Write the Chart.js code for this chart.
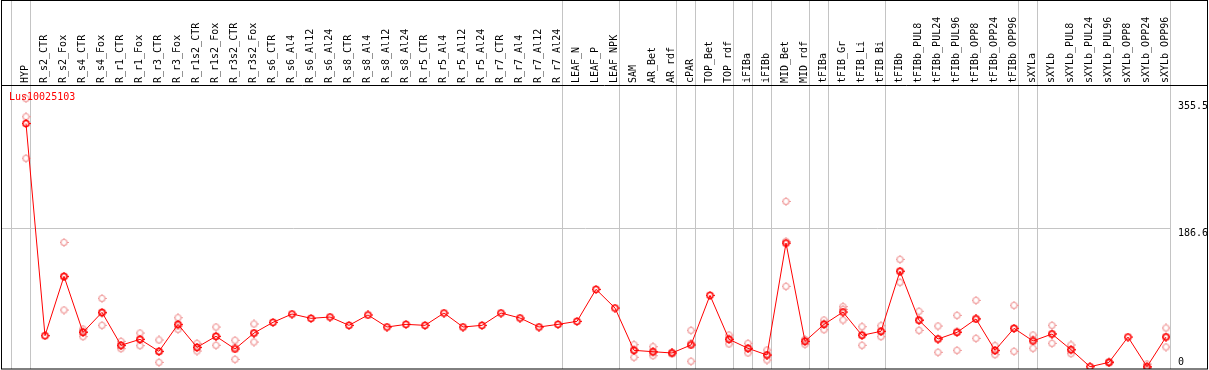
<!DOCTYPE html>
<html><head><meta charset="utf-8">
<script src="https://cdn.jsdelivr.net/npm/chart.js@4.4.1/dist/chart.umd.min.js"></script>
<style>html,body{margin:0;padding:0;background:#fff;}canvas{display:block;}</style>
</head><body>
<canvas id="c" width="1209" height="370"></canvas>
<script>
const geneName = 'Lus10025103';
const categories = ['HYP','R_s2_CTR','R_s2_Fox','R_s4_CTR','R_s4_Fox','R_r1_CTR','R_r1_Fox','R_r3_CTR','R_r3_Fox','R_r1s2_CTR','R_r1s2_Fox','R_r3s2_CTR','R_r3s2_Fox','R_s6_CTR','R_s6_Al4','R_s6_Al12','R_s6_Al24','R_s8_CTR','R_s8_Al4','R_s8_Al12','R_s8_Al24','R_r5_CTR','R_r5_Al4','R_r5_Al12','R_r5_Al24','R_r7_CTR','R_r7_Al4','R_r7_Al12','R_r7_Al24','LEAF_N','LEAF_P','LEAF_NPK','SAM','AR_Bet','AR_rdf','cPAR','TOP_Bet','TOP_rdf','iFIBa','iFIBb','MID_Bet','MID_rdf','tFIBa','tFIB_Gr','tFIB_Li','tFIB_Bi','tFIBb','tFIBb_PUL8','tFIBb_PUL24','tFIBb_PUL96','tFIBb_OPP8','tFIBb_OPP24','tFIBb_OPP96','sXYLa','sXYLb','sXYLb_PUL8','sXYLb_PUL24','sXYLb_PUL96','sXYLb_OPP8','sXYLb_OPP24','sXYLb_OPP96'];
const meanValues = [325,44.1,122.7,48.5,75,31.4,39.3,23.4,59.1,28.7,43.3,26.5,47.6,61.8,72.8,67.1,68.8,57.8,71.5,55.6,59.1,57.8,74.1,55.6,57.8,74.1,67.5,55.6,59.1,63.1,105.5,80.7,24.7,22.9,21.2,31.8,97.5,39.3,27.4,18.5,166.7,36.6,59.1,75.4,44.6,49.9,129.5,64.4,39.7,48.5,66.2,24.7,53.8,37.1,46.3,25.6,3,8.8,42.3,3,42.3];
const rep1 = [358,null,167.6,52.9,93.5,36.6,47.6,38.4,67.9,34,55.6,38,59.6,null,null,null,null,null,null,null,null,null,null,null,null,null,null,null,null,null,null,null,32.2,29.5,22,51.2,null,45,34,25.1,221.9,38,64.8,82.5,56,57.3,145.2,76.4,56.9,71,90.9,30.9,84.3,45,57.8,31.8,null,10,null,6.6,54.3];
const rep2 = [334,null,122,49.8,73.7,30.7,39.4,23,57,28.3,43,28.7,47.5,null,null,null,null,null,null,null,null,null,null,null,null,null,null,null,null,null,null,null,26,21.6,21,34,null,40,27,18.5,169,39,60,79,46,49.6,129,65.6,40,50,67,24,54,39,47,25,null,8.5,null,2,43];
const rep3 = [279,null,78.1,42.8,57.8,26.9,30.9,8.8,52.5,23.8,31.4,12.8,35.7,null,null,null,null,null,null,null,null,null,null,null,null,null,null,null,null,null,null,null,15.5,17.6,20,10.2,null,33.1,21.2,11.9,109.4,32.7,52,64.8,31.4,42.8,114.7,51.2,22.1,24.7,40.6,19,23.4,27.4,34,20.3,null,8,null,1,29.1];
const yTickValues = [0, 186.6, 355.5];
const yTickLabels = ['0', '186.6', '355.5'];
const groupEnds = [-1, 0, 28, 31, 34, 35, 37, 38, 39, 41, 42, 45, 52, 53, 60];

function makeMarker(color, lw) {
  const c = document.createElement('canvas');
  c.width = 9; c.height = 9;
  const g = c.getContext('2d');
  g.strokeStyle = color; g.fillStyle = color; g.lineWidth = lw;
  g.beginPath(); g.arc(4.5, 4.5, 3, 0, Math.PI * 2); g.stroke();
  g.fillRect(4, 0, 1, 1); g.fillRect(4, 8, 1, 1);
  g.fillRect(0, 4, 1, 1); g.fillRect(8, 4, 1, 1);
  return c;
}
const redMarker = makeMarker('#ff0000', 1.5);
const pinkMarker = makeMarker('#f09a9a', 1.1);

const toPts = arr => arr.map((v, i) => ({x: i, y: v}));
const FONT = 'DejaVu Sans Mono';

const decor = {
  id: 'decor',
  beforeDatasetsDraw(chart) {
    const ctx = chart.ctx, xs = chart.scales.x, a = chart.chartArea;
    ctx.save();
    ctx.strokeStyle = '#c4c4c4'; ctx.lineWidth = 1;
    groupEnds.forEach(i => {
      const px = Math.floor(xs.getPixelForValue(i + 0.25)) + 0.5;
      ctx.beginPath(); ctx.moveTo(px, 0); ctx.lineTo(px, a.bottom); ctx.stroke();
    });
    ctx.restore();
  },
  afterDraw(chart) {
    const ctx = chart.ctx, ys = chart.scales.y, a = chart.chartArea;
    ctx.save();
    ctx.strokeStyle = '#000'; ctx.lineWidth = 1;
    ctx.strokeRect(1.5, 0.5, 1206, a.bottom - 0.5);
    ctx.beginPath(); ctx.moveTo(1, a.top + 0.5); ctx.lineTo(1208, a.top + 0.5); ctx.stroke();
    ctx.font = '10px "' + FONT + '"';
    ctx.textBaseline = 'middle'; ctx.textAlign = 'left';
    ctx.fillStyle = '#ff0000';
    ctx.fillText(geneName, a.left + 8, 97);
    ctx.fillStyle = '#000';
    yTickValues.forEach((v, i) => {
      let py = ys.getPixelForValue(v) + 5.5;
      py = Math.min(py, a.bottom - 7);
      ctx.fillText(yTickLabels[i], a.right + 8, py);
    });
    ctx.restore();
  }
};

new Chart(document.getElementById('c'), {
  type: 'scatter',
  data: {
    datasets: [
      {label: 'mean', data: toPts(meanValues), showLine: true, borderColor: '#ff0000', borderWidth: 1, tension: 0,
       pointStyle: redMarker, pointRadius: 4, pointHoverRadius: 4},
      {label: 'rep1', data: toPts(rep1), showLine: false, pointStyle: pinkMarker, pointRadius: 4},
      {label: 'rep2', data: toPts(rep2), showLine: false, pointStyle: pinkMarker, pointRadius: 4},
      {label: 'rep3', data: toPts(rep3), showLine: false, pointStyle: pinkMarker, pointRadius: 4}
    ]
  },
  options: {
    responsive: false, animation: false, devicePixelRatio: 1,
    layout: {autoPadding: false, padding: {left: 1, right: 1, top: 0, bottom: 1}},
    plugins: {legend: {display: false}, tooltip: {enabled: false}},
    scales: {
      x: {
        type: 'linear', position: 'top', bounds: 'data',
        min: -25 / 19, max: -25 / 19 + 1169 / 19,
        afterBuildTicks: s => { s.ticks = categories.map((c, i) => ({value: i})); },
        afterFit: s => { s.height = 85; s.paddingLeft = 0; s.paddingRight = 0; s.paddingTop = 0; s.paddingBottom = 0; },
        grid: {display: false, drawTicks: false}, border: {display: false},
        ticks: {autoSkip: false, minRotation: 90, maxRotation: 90, padding: 2, labelOffset: 11, color: '#000',
          font: {family: FONT, size: 10},
          callback: v => categories[v] !== undefined ? categories[v] : ''}
      },
      y: {
        type: 'linear', position: 'right', min: 0, max: 376, bounds: 'data',
        afterBuildTicks: s => { s.ticks = yTickValues.map(v => ({value: v})); },
        afterFit: s => { s.width = 38; s.paddingLeft = 0; s.paddingRight = 0; s.paddingTop = 0; s.paddingBottom = 0; },
        grid: {drawTicks: false, color: c => (c.tick && c.tick.value === 186.6) ? '#c4c4c4' : 'rgba(0,0,0,0)'},
        border: {display: false},
        ticks: {display: false}
      }
    }
  },
  plugins: [decor]
});
</script>
</body></html>
